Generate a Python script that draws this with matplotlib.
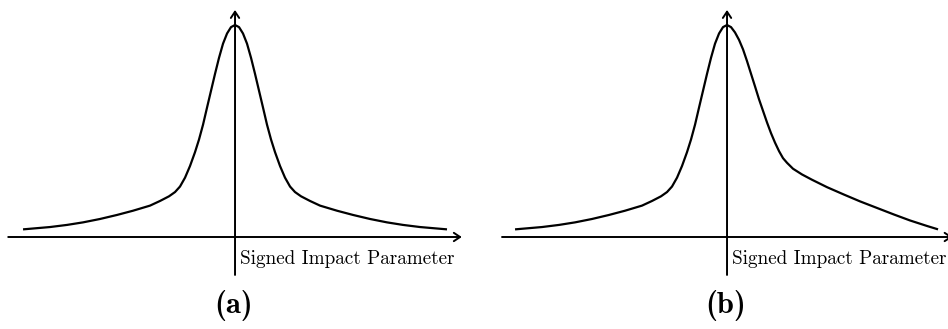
import matplotlib.pyplot as plt

# impact parameter (arbitrary units) and relative density of the tracks
# left flank, identical in both panels
left_x = [-3.533, -3.083, -2.8, -2.533, -2.25, -1.967, -1.7, -1.417, -1.25, -1.1,
          -1.0, -0.917, -0.833, -0.75, -0.667, -0.6, -0.533, -0.467, -0.4,
          -0.333, -0.267, -0.2, -0.133, -0.067, 0.0]
left_y = [0.036, 0.047, 0.057, 0.069, 0.085, 0.104, 0.124, 0.148, 0.170, 0.192,
          0.212, 0.238, 0.28, 0.335, 0.40, 0.46, 0.53, 0.61, 0.69,
          0.77, 0.845, 0.912, 0.96, 0.99, 1.0]

# right flank of (a): same shape as the left one
right_a_x = [0.067, 0.133, 0.2, 0.267, 0.333, 0.4, 0.467, 0.533, 0.6, 0.667,
             0.75, 0.833, 0.917, 1.0, 1.1, 1.25, 1.417, 1.7, 1.967, 2.25,
             2.533, 2.8, 3.083, 3.533]
right_a_y = [0.99, 0.96, 0.912, 0.845, 0.77, 0.69, 0.61, 0.53, 0.46, 0.40,
             0.335, 0.28, 0.238, 0.212, 0.192, 0.170, 0.148, 0.124, 0.104, 0.085,
             0.069, 0.057, 0.047, 0.036]

# right flank of (b): long positive tail
right_b_x = [0.067, 0.133, 0.2, 0.267, 0.333, 0.4, 0.467, 0.533, 0.6, 0.667,
             0.733, 0.8, 0.867, 0.933, 1.0, 1.1, 1.25, 1.417, 1.667, 1.95,
             2.217, 2.5, 2.783, 3.05, 3.333, 3.517]
right_b_y = [0.99, 0.965, 0.93, 0.885, 0.83, 0.77, 0.71, 0.65, 0.595, 0.54,
             0.49, 0.445, 0.405, 0.372, 0.35, 0.322, 0.295, 0.27, 0.235, 0.20,
             0.168, 0.137, 0.106, 0.078, 0.052, 0.036]

panels = [
    ("(a)", right_a_x, right_a_y, (-3.917, 3.983), (-3.78, 3.78)),
    ("(b)", right_b_x, right_b_y, (-4.217, 3.683), (-3.75, 3.76)),
]

fig = plt.figure(figsize=(9.48, 3.29), dpi=100)

for i, (tag, rx, ry, xlim, xaxis) in enumerate(panels):
    ax = fig.add_axes([0.5 * i, 0.0, 0.5, 1.0])
    ax.set_xlim(*xlim)
    ax.set_ylim(-0.434, 1.118)
    ax.axis("off")

    ax.plot(left_x + rx, left_y + ry, color="black", lw=1.6,
            solid_joinstyle="round", solid_capstyle="butt")

    arrow = dict(arrowstyle="->,head_length=0.45,head_width=0.3", lw=1.4,
                 color="black", shrinkA=0, shrinkB=0)
    ax.annotate("", xy=(xaxis[1], 0), xytext=(xaxis[0], 0), arrowprops=arrow,
                annotation_clip=False)
    ax.annotate("", xy=(0, 1.071), xytext=(0, -0.179), arrowprops=arrow,
                annotation_clip=False)

    ax.text(0.08, -0.127, "Signed Impact Parameter", fontfamily="cmr10",
            fontsize=13.8, va="baseline", ha="left")
    ax.text(-0.03, -0.325, tag, fontfamily="cmb10", fontsize=22,
            ha="center", va="center")

fig.savefig("out.png", dpi=100)
